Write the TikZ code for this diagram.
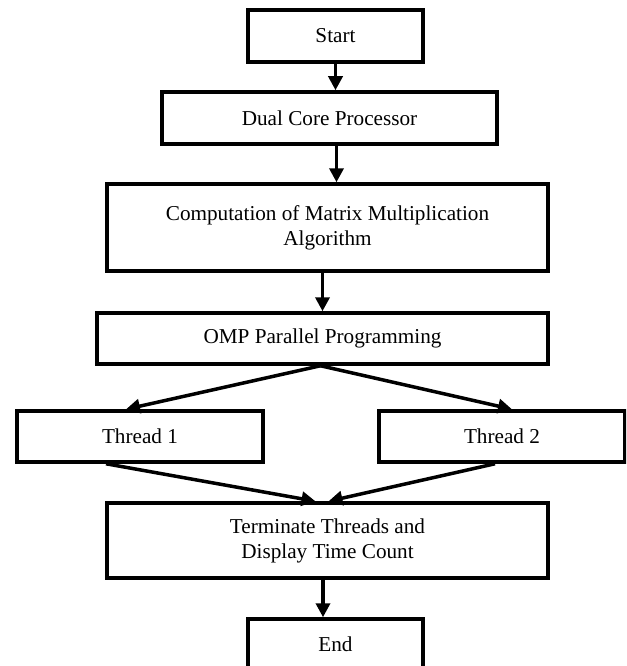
\documentclass[tikz,border=0pt]{standalone}
\usepackage{fontspec}
\setmainfont{Liberation Serif}
\usetikzlibrary{arrows.meta}
\begin{document}
\begin{tikzpicture}[x=1pt,y=-1pt,
  box/.style={draw=black, line width=3.5pt, align=center, inner sep=0pt,
    font=\fontsize{21.2}{25}\selectfont},
  arr/.style={line width=3.5pt, -{Triangle[length=14pt,width=14pt]}}]
\useasboundingbox (0,0) rectangle (626,666);
\clip (0,0) rectangle (626,666);
\node[box, minimum width=175pt, minimum height=52pt] (start) at (335.5,36) {Start};
\node[box, minimum width=335pt, minimum height=52pt] (dual) at (329.5,118) {Dual Core Processor};
\node[box, minimum width=441pt, minimum height=87pt] (comp) at (327.5,227.5) {Computation of Matrix Multiplication\\Algorithm};
\node[box, minimum width=451pt, minimum height=51pt] (omp) at (322.5,338.5) {OMP Parallel Programming};
\node[box, minimum width=246pt, minimum height=51pt] (t1) at (140,436.5) {Thread 1};
\node[box, minimum width=246pt, minimum height=51pt] (t2) at (502,436.5) {Thread 2};
\node[box, minimum width=441pt, minimum height=75pt] (term) at (327.5,540.5) {Terminate Threads and\\Display Time Count};
\node[box, minimum width=175pt, minimum height=50pt] (end) at (335.5,644) {End};
\draw[arr] (start.south) -- (start.south |- dual.north);
\draw[arr] ([xshift=7pt]dual.south) -- ([xshift=7pt]dual.south |- comp.north);
\draw[arr] (omp.north |- comp.south) -- (omp.north);
\draw[arr] ([xshift=-2pt]omp.south) -- ([xshift=-14pt]t1.north);
\draw[arr] ([xshift=-2pt]omp.south) -- ([xshift=10pt]t2.north);
\draw[arr] ([xshift=-34pt]t1.south) -- ([xshift=-12pt]term.north);
\draw[arr] ([xshift=-7pt]t2.south) -- ([xshift=1pt]term.north);
\draw[arr] ([xshift=-4.5pt]term.south) -- ([xshift=-4.5pt]term.south |- end.north);
\end{tikzpicture}
\end{document}
